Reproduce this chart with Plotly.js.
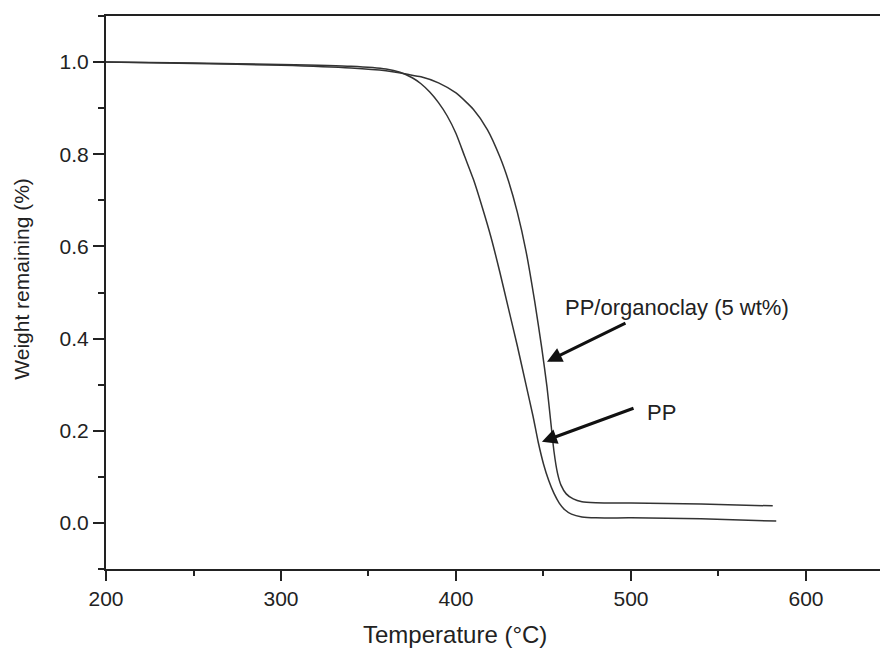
<!DOCTYPE html>
<html>
<head>
<meta charset="utf-8">
<script src="https://cdn.plot.ly/plotly-3.0.1.min.js"></script>
<style>html,body{margin:0;padding:0;background:#fff;}#chart{width:880px;height:650px;}</style>
</head>
<body>
<div id="chart"></div>
<script>
// PP (neat polypropylene) TGA curve
const tempPP = [200, 250, 300, 340, 360, 368, 375, 380, 385, 390, 395, 400, 405, 410, 415, 420, 425, 430, 435, 440, 444, 447, 450, 453, 456, 459, 462, 466, 472, 480, 500, 540, 583];
const weightPP = [1.000, 0.998, 0.995, 0.991, 0.985, 0.978, 0.966, 0.953, 0.935, 0.912, 0.883, 0.845, 0.795, 0.745, 0.685, 0.620, 0.545, 0.465, 0.385, 0.300, 0.232, 0.175, 0.128, 0.092, 0.064, 0.043, 0.029, 0.019, 0.013, 0.011, 0.011, 0.009, 0.004];

// PP/organoclay (5 wt%) TGA curve
const tempPPC = [200, 250, 300, 340, 360, 373, 380, 390, 400, 410, 418, 425, 430, 435, 440, 445, 449, 452, 454, 456, 458, 460, 463, 467, 472, 480, 500, 540, 581];
const weightPPC = [1.000, 0.997, 0.993, 0.987, 0.981, 0.973, 0.968, 0.955, 0.933, 0.897, 0.853, 0.795, 0.742, 0.675, 0.590, 0.480, 0.380, 0.295, 0.225, 0.155, 0.108, 0.082, 0.063, 0.052, 0.046, 0.044, 0.043, 0.041, 0.037];

const xTicks = [200, 300, 400, 500, 600];
const yTicks = [0.0, 0.2, 0.4, 0.6, 0.8, 1.0];
const yTickText = ['0.0', '0.2', '0.4', '0.6', '0.8', '1.0'];

const labelOrganoclay = 'PP/organoclay (5 wt%)';
const labelPP = 'PP';
const xTitle = 'Temperature (°C)';
const yTitle = 'Weight remaining (%)';

const font = 'Liberation Sans, Arial, sans-serif';
const ink = '#222';

const traces = [
  {x: tempPP, y: weightPP, mode: 'lines', name: labelPP,
   line: {color: '#333', width: 1.5, shape: 'spline', smoothing: 0.6}},
  {x: tempPPC, y: weightPPC, mode: 'lines', name: labelOrganoclay,
   line: {color: '#333', width: 1.5, shape: 'spline', smoothing: 0.6}}
];

const layout = {
  width: 880, height: 650,
  margin: {l: 106, r: 0, t: 16, b: 81},
  paper_bgcolor: '#fff', plot_bgcolor: '#fff',
  showlegend: false,
  font: {family: font, color: ink, size: 21},
  xaxis: {
    range: [200, 642.3], tickvals: xTicks, ticks: 'outside', ticklen: 10, tickwidth: 2,
    tickcolor: ink, showline: true, linewidth: 2, linecolor: ink, mirror: true,
    showgrid: false, zeroline: false, tickfont: {size: 21, color: ink},
    minor: {dtick: 50, ticks: 'outside', ticklen: 5, tickwidth: 2, tickcolor: ink, showgrid: false}
  },
  yaxis: {
    range: [-0.1, 1.1], tickvals: yTicks, ticktext: yTickText, ticks: 'outside', ticklen: 11, tickwidth: 2,
    tickcolor: ink, showline: true, linewidth: 2, linecolor: ink, mirror: false,
    showgrid: false, zeroline: false, tickfont: {size: 21, color: ink},
    minor: {dtick: 0.1, ticks: 'outside', ticklen: 6, tickwidth: 2, tickcolor: ink, showgrid: false}
  },
  annotations: [
    {x: 399.4, y: -0.119, xref: 'x', yref: 'paper', text: xTitle, showarrow: false,
     xanchor: 'center', yanchor: 'middle', font: {size: 24, color: ink}},
    {x: -0.1085, y: 0.53, xref: 'paper', yref: 'y', text: yTitle, showarrow: false, textangle: -90,
     xanchor: 'center', yanchor: 'middle', font: {size: 21, color: ink}},
    {x: 461, y: 0.467, xref: 'x', yref: 'y', text: labelOrganoclay, showarrow: false,
     xanchor: 'left', yanchor: 'middle', font: {size: 22, color: ink}},
    {x: 508, y: 0.239, xref: 'x', yref: 'y', text: labelPP, showarrow: false,
     xanchor: 'left', yanchor: 'middle', font: {size: 22, color: ink}},
    {x: 452, y: 0.35, xref: 'x', yref: 'y', ax: 497.7, ay: 0.435, axref: 'x', ayref: 'y',
     text: '', showarrow: true, arrowhead: 2, arrowsize: 1, arrowwidth: 3, arrowcolor: '#111'},
    {x: 449.1, y: 0.176, xref: 'x', yref: 'y', ax: 502.3, ay: 0.25, axref: 'x', ayref: 'y',
     text: '', showarrow: true, arrowhead: 2, arrowsize: 1, arrowwidth: 3, arrowcolor: '#111'}
  ]
};

Plotly.newPlot('chart', traces, layout, {displayModeBar: false, staticPlot: true});
</script>
</body>
</html>
